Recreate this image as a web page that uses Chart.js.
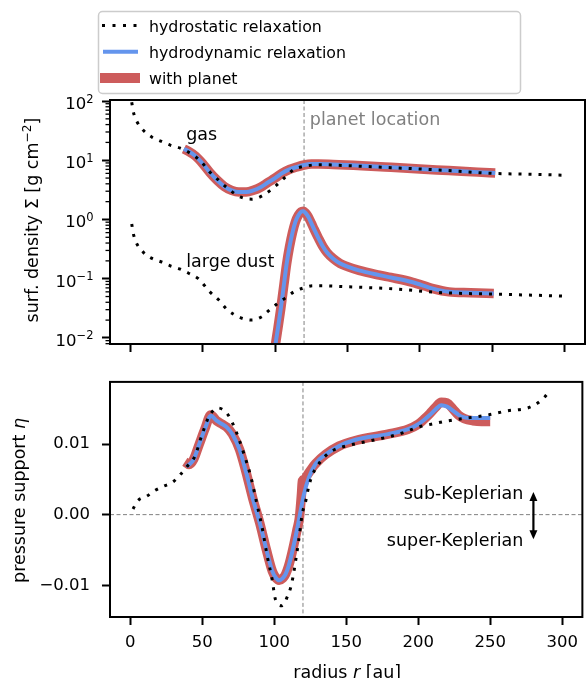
<!DOCTYPE html>
<html>
<head>
<meta charset="utf-8">
<script src="https://cdn.jsdelivr.net/npm/chart.js@4.4.0/dist/chart.umd.min.js"></script>
<style>
    html, body { margin: 0; padding: 0; background: #fff; overflow: hidden; }
    #quadro { position: relative; width: 586px; height: 678px; overflow: hidden; }
    #graficoSigma { position: absolute; left: 0; top: 0; }
    #graficoEta { position: absolute; left: 0; top: 360px; }
</style>
</head>
<body>
<div id="quadro">
    <canvas id="graficoSigma" width="586" height="360"></canvas>
    <canvas id="graficoEta" width="586" height="330"></canvas>
</div>
<script>
'use strict';

//========================================================================================
// dados - painel de cima (densidade superficial)
const nomesSeries = ['hydrostatic relaxation', 'hydrodynamic relaxation', 'with planet'];

const raioHidroGas = [1, 2.3, 5, 9, 15, 21, 27.6, 34.5, 40, 48, 55, 61, 67, 76, 84, 91, 101, 107, 113, 119, 126, 132, 150, 180, 215, 250, 275, 298];
const sigmaHidroGas = [95, 63, 43, 32, 24.5, 21, 18, 16, 13.8, 10, 6.3, 4.6, 3.4, 2.4, 2.2, 2.5, 3.8, 5.2, 7.0, 7.8, 8.3, 8.4, 8.1, 7.5, 6.8, 6.0, 5.8, 5.6];

const raioGasPlaneta = [37, 40, 45, 50, 55, 60, 65, 70, 75, 80, 85, 90, 95, 100, 105, 110, 115, 120, 125, 130, 140, 160, 180, 200, 220, 240, 252];
const sigmaGasPlaneta = [15.5, 14.3, 11.8, 8.8, 6.2, 4.6, 3.6, 3.1, 2.9, 2.9, 3.1, 3.5, 4.2, 5.0, 6.1, 7.0, 7.7, 8.3, 8.6, 8.6, 8.5, 8.1, 7.6, 7.1, 6.7, 6.3, 6.1];
const sigmaGasHidrodin = [15.5, 14.3, 11.8, 8.8, 6.2, 4.6, 3.6, 3.1, 2.9, 2.9, 3.1, 3.5, 4.2, 5.0, 6.1, 7.0, 7.7, 8.3, 8.6, 8.6, 8.5, 8.1, 7.6, 7.1, 6.7, 6.3, 6.1];

const raioHidroPoeira = [1, 2.3, 9, 15, 22, 27.6, 34.5, 40, 47, 55, 61, 67, 76, 84, 91, 95, 101, 107, 113, 119, 126, 132, 150, 179, 216, 250, 299];
const sigmaHidroPoeira = [0.84, 0.55, 0.28, 0.22, 0.19, 0.165, 0.145, 0.125, 0.10, 0.06, 0.044, 0.03, 0.022, 0.020, 0.023, 0.028, 0.037, 0.047, 0.06, 0.069, 0.076, 0.076, 0.073, 0.068, 0.058, 0.055, 0.051];

const raioPoeiraPlaneta = [100, 102, 104, 106, 108, 110, 112, 114, 116, 118, 119.5, 121, 123, 125, 127, 130, 133, 136, 140, 145, 150, 158, 172, 180, 195, 209, 220, 235, 251];
const sigmaPoeiraPlaneta = [0.0071, 0.0148, 0.032, 0.076, 0.18, 0.35, 0.6, 0.91, 1.17, 1.35, 1.38, 1.29, 1.10, 0.87, 0.68, 0.48, 0.35, 0.275, 0.22, 0.18, 0.16, 0.138, 0.115, 0.105, 0.087, 0.068, 0.06, 0.058, 0.056];
const sigmaPoeiraHidrodin = [0.0071, 0.0148, 0.032, 0.076, 0.18, 0.35, 0.6, 0.91, 1.17, 1.35, 1.38, 1.29, 1.10, 0.87, 0.68, 0.48, 0.35, 0.275, 0.22, 0.18, 0.16, 0.138, 0.115, 0.105, 0.087, 0.068, 0.06, 0.058, 0.056];

// dados - painel de baixo (suporte de pressao)
const raioHidroEta = [2, 5, 11.5, 17, 23, 29.5, 34.5, 39, 45, 50, 55, 61, 67, 71, 75, 79, 84, 88, 92, 95, 98.5, 101, 105.5, 109, 111.5, 113, 115, 117, 119.5, 122, 124, 126.5, 130, 134.5, 140, 149.5, 163, 179, 191, 200, 209, 221, 234.5, 248, 262, 276, 283, 288, 291];
const etaHidro = [0.0008, 0.0019, 0.0026, 0.0034, 0.0040, 0.0046, 0.0056, 0.0067, 0.0083, 0.0114, 0.0140, 0.0151, 0.0144, 0.0130, 0.0110, 0.0086, 0.0052, 0.0015, -0.0022, -0.0057, -0.0091, -0.0121, -0.0129, -0.0117, -0.0103, -0.0089, -0.0064, -0.0037, 0.0001, 0.0020, 0.0040, 0.0056, 0.0069, 0.0081, 0.0090, 0.0097, 0.0103, 0.0110, 0.0117, 0.0124, 0.0128, 0.0133, 0.0137, 0.0141, 0.0147, 0.0151, 0.0158, 0.0167, 0.0174];

const raioEtaPlaneta = [38, 41, 44, 48, 52, 56, 60, 64, 67, 71, 76, 80.5, 85, 90, 94.5, 98.7, 101, 103.4, 106, 108, 110, 112.5, 116, 117.5, 119, 119.6, 121, 123, 126, 128.7, 135.6, 145, 156.5, 179, 193, 200, 204, 208, 212, 216, 220, 224, 228, 232, 238, 244, 250];
const etaPlaneta = [0.0075, 0.0071, 0.0078, 0.0100, 0.0122, 0.0141, 0.0133, 0.0128, 0.0124, 0.0114, 0.0092, 0.0060, 0.0024, -0.0012, -0.0049, -0.0080, -0.0089, -0.0093, -0.0090, -0.0084, -0.0073, -0.0053, -0.0020, -0.0005, 0.0030, 0.0048, 0.0050, 0.0056, 0.0065, 0.0072, 0.0085, 0.0097, 0.0105, 0.0114, 0.0121, 0.0128, 0.0135, 0.0143, 0.0152, 0.0159, 0.0158, 0.0150, 0.0141, 0.0136, 0.0133, 0.0132, 0.0132];

const raioEtaHidrodin = [39, 41, 44, 48, 52, 56, 60, 64, 67, 71, 76, 80.5, 85, 90, 94.5, 98.7, 101, 103.4, 106, 108, 110, 112.5, 116, 118.4, 120.7, 124, 128.7, 135.6, 145, 156.5, 179, 193, 200, 204, 208, 212, 216, 220, 225, 230, 236, 242, 250];
const etaHidrodin = [0.0068, 0.0071, 0.0078, 0.0100, 0.0122, 0.0140, 0.0133, 0.0128, 0.0124, 0.0114, 0.0092, 0.0060, 0.0024, -0.0012, -0.0049, -0.0080, -0.0089, -0.0093, -0.0090, -0.0084, -0.0073, -0.0053, -0.0020, 0.0006, 0.0029, 0.0052, 0.0072, 0.0085, 0.0097, 0.0106, 0.0114, 0.0121, 0.0128, 0.0134, 0.0141, 0.0149, 0.0155, 0.0153, 0.0146, 0.0139, 0.0137, 0.0137, 0.0137];

// eixos e marcas
const raioTicks = [0, 50, 100, 150, 200, 250, 300];
const sigmaTicks = [0.01, 0.1, 1, 10, 100];
const sigmaTickExpoentes = ['−2', '−1', '0', '1', '2'];
const etaTicks = [-0.01, 0, 0.01];
const etaTickLabels = ['−0.01', '0.00', '0.01'];
const posicaoPlaneta = 120;
const setaKepler = [280, 0.0032, -0.0035];

//========================================================================================
Chart.defaults.font.family = "'DejaVu Sans', sans-serif";
Chart.defaults.color = '#000';
Chart.defaults.animation = false;

const PRETO = '#000000';
const AZUL = '#6495ED';
const VERMELHO = '#CD5C5C';
const CINZA = '#808080';
const FONTE = "'DejaVu Sans'";

function pontos(raios, valores) {
    return raios.map((r, i) => ({ x: r, y: valores[i] }));
}

function serie(label, dados, tipo) {
    const base = { label: label, data: dados, pointRadius: 0, fill: false, clip: 0, cubicInterpolationMode: 'monotone', borderJoinStyle: 'round' };
    if (tipo === 'pontilhado') return Object.assign(base, { borderColor: PRETO, borderWidth: 3, borderDash: [3, 7], borderCapStyle: 'butt' });
    if (tipo === 'azul') return Object.assign(base, { borderColor: AZUL, borderWidth: 4, borderCapStyle: 'butt' });
    return Object.assign(base, { borderColor: VERMELHO, borderWidth: 9.5, borderCapStyle: 'butt' });
}

function eixoX(altura, comRotulos) {
    return {
        type: 'linear', min: -14, max: 314, bounds: 'data',
        afterBuildTicks: s => { s.ticks = raioTicks.map(v => ({ value: v })); },
        afterFit: s => { s.height = altura; },
        ticks: { display: comRotulos, font: { size: 16.5 }, padding: 8, autoSkip: false, maxRotation: 0 },
        grid: { drawOnChartArea: false, tickLength: 8, tickWidth: 2, tickColor: PRETO },
        border: { display: false }
    };
}

function tracejado(ctx, x0, y0, x1, y1) {
    ctx.save();
    ctx.strokeStyle = CINZA;
    ctx.lineWidth = 1;
    ctx.setLineDash([4, 2.5]);
    ctx.beginPath();
    ctx.moveTo(x0, y0);
    ctx.lineTo(x1, y1);
    ctx.stroke();
    ctx.restore();
}

function moldura(chart) {
    const a = chart.chartArea;
    const ctx = chart.ctx;
    ctx.save();
    ctx.strokeStyle = PRETO;
    ctx.lineWidth = 2;
    ctx.strokeRect(a.left, a.top, a.right - a.left, a.bottom - a.top);
    ctx.restore();
}

function texto(ctx, str, x, y, cor, alinhamento) {
    ctx.save();
    ctx.font = '17.5px ' + FONTE;
    ctx.fillStyle = cor;
    ctx.textAlign = alinhamento;
    ctx.textBaseline = 'alphabetic';
    ctx.fillText(str, x, y);
    ctx.restore();
}

// titulo com partes em italico / expoente, centrado em (x, y) na linha de base
function tituloMisto(ctx, partes, x, y, girado) {
    const tam = 17.5;
    const fonteDe = p => (p.italico ? 'italic ' : '') + (p.sup ? tam * 0.7 : tam) + 'px ' + FONTE;
    let total = 0;
    partes.forEach(p => { ctx.font = fonteDe(p); p.w = ctx.measureText(p.t).width; total += p.w; });
    ctx.save();
    ctx.translate(x, y);
    if (girado) ctx.rotate(-Math.PI / 2);
    ctx.fillStyle = PRETO;
    ctx.textAlign = 'left';
    ctx.textBaseline = 'alphabetic';
    let cx = -total / 2;
    partes.forEach(p => {
        ctx.font = fonteDe(p);
        ctx.fillText(p.t, cx, p.sup ? -tam * 0.4 : 0);
        cx += p.w;
    });
    ctx.restore();
}

// rotulo 10^n do eixo log
function rotuloPotencia(ctx, expoente, xDireita, yTick) {
    ctx.save();
    ctx.fillStyle = PRETO;
    ctx.textAlign = 'left';
    ctx.textBaseline = 'alphabetic';
    ctx.font = '16.5px ' + FONTE;
    const wBase = ctx.measureText('10').width;
    ctx.font = '11.5px ' + FONTE;
    const wExp = ctx.measureText(expoente).width;
    const x0 = xDireita - wBase - wExp;
    const yb = yTick + 8;
    ctx.font = '16.5px ' + FONTE;
    ctx.fillText('10', x0, yb);
    ctx.font = '11.5px ' + FONTE;
    ctx.fillText(expoente, x0 + wBase, yb - 6.5);
    ctx.restore();
}

//========================================================================================
// legenda desenhada a mao (estilo matplotlib)
function desenhaLegenda(ctx) {
    ctx.save();
    ctx.beginPath();
    ctx.roundRect(98.5, 11.5, 422, 82, 4);
    ctx.fillStyle = 'rgba(255,255,255,0.8)';
    ctx.fill();
    ctx.strokeStyle = '#cccccc';
    ctx.lineWidth = 1.5;
    ctx.stroke();

    const estilos = [
        { cor: PRETO, largura: 3, dash: [3, 7.5], x0: 102, x1: 137 },
        { cor: AZUL, largura: 4, dash: [], x0: 103, x1: 138 },
        { cor: VERMELHO, largura: 10, dash: [], x0: 100, x1: 140 }
    ];
    nomesSeries.forEach((nome, i) => {
        const y = 25.5 + i * 26.2;
        const e = estilos[i];
        ctx.strokeStyle = e.cor;
        ctx.lineWidth = e.largura;
        ctx.setLineDash(e.dash);
        ctx.beginPath();
        ctx.moveTo(e.x0, y);
        ctx.lineTo(e.x1, y);
        ctx.stroke();
        ctx.setLineDash([]);
        ctx.font = '15.8px ' + FONTE;
        ctx.fillStyle = PRETO;
        ctx.textAlign = 'left';
        ctx.textBaseline = 'alphabetic';
        ctx.fillText(nome, 149, y + 6);
    });
    ctx.restore();
}

const pluginSigma = {
    id: 'pluginSigma',
    beforeDatasetsDraw(chart) {
        const x = chart.scales.x.getPixelForValue(posicaoPlaneta);
        tracejado(chart.ctx, x, chart.chartArea.top, x, chart.chartArea.bottom);
    },
    afterDraw(chart) {
        const ctx = chart.ctx;
        const sx = chart.scales.x;
        const sy = chart.scales.y;
        const a = chart.chartArea;
        moldura(chart);
        // marcas menores do eixo log
        ctx.save();
        ctx.strokeStyle = PRETO;
        ctx.lineWidth = 1.3;
        for (let e = -3; e <= 2; e++) {
            for (let m = 2; m <= 9; m++) {
                const v = m * Math.pow(10, e);
                if (v < sy.min || v > sy.max) continue;
                const y = sy.getPixelForValue(v);
                ctx.beginPath();
                ctx.moveTo(a.left - 4.5, y);
                ctx.lineTo(a.left, y);
                ctx.stroke();
            }
        }
        ctx.restore();
        sigmaTicks.forEach((v, i) => rotuloPotencia(ctx, sigmaTickExpoentes[i], a.left - 16.5, sy.getPixelForValue(v)));
        tituloMisto(ctx, [{ t: 'surf. density Σ [g cm' }, { t: '−2', sup: true }, { t: ']' }], 38, (a.top + a.bottom) / 2 - 2, true);
        texto(ctx, 'gas', sx.getPixelForValue(38.6), sy.getPixelForValue(22), PRETO, 'left');
        texto(ctx, 'large dust', sx.getPixelForValue(38.6), sy.getPixelForValue(0.16), PRETO, 'left');
        texto(ctx, 'planet location', sx.getPixelForValue(124), sy.getPixelForValue(39.4), CINZA, 'left');
        desenhaLegenda(ctx);
    }
};

const pluginEta = {
    id: 'pluginEta',
    beforeDatasetsDraw(chart) {
        const a = chart.chartArea;
        const x = chart.scales.x.getPixelForValue(posicaoPlaneta);
        const y = chart.scales.y.getPixelForValue(0);
        tracejado(chart.ctx, a.left, y, a.right, y);
        tracejado(chart.ctx, x, a.top, x, a.bottom);
    },
    afterDraw(chart) {
        const ctx = chart.ctx;
        const sx = chart.scales.x;
        const sy = chart.scales.y;
        const a = chart.chartArea;
        moldura(chart);
        tituloMisto(ctx, [{ t: 'pressure support ' }, { t: 'η', italico: true }], 24.5, (a.top + a.bottom) / 2 + 1, true);
        tituloMisto(ctx, [{ t: 'radius ' }, { t: 'r', italico: true }, { t: ' [au]' }], (a.left + a.right) / 2 + 1, 318, false);
        texto(ctx, 'sub-Keplerian', sx.getPixelForValue(273), sy.getPixelForValue(0.00218), PRETO, 'right');
        texto(ctx, 'super-Keplerian', sx.getPixelForValue(273), sy.getPixelForValue(-0.0045), PRETO, 'right');
        // seta dupla
        const xs = sx.getPixelForValue(setaKepler[0]);
        const yTopo = sy.getPixelForValue(setaKepler[1]);
        const yBase = sy.getPixelForValue(setaKepler[2]);
        ctx.save();
        ctx.strokeStyle = PRETO;
        ctx.fillStyle = PRETO;
        ctx.lineWidth = 2.2;
        ctx.beginPath();
        ctx.moveTo(xs, yTopo + 6);
        ctx.lineTo(xs, yBase - 6);
        ctx.stroke();
        ctx.beginPath();
        ctx.moveTo(xs, yTopo);
        ctx.lineTo(xs - 4, yTopo + 9);
        ctx.lineTo(xs + 4, yTopo + 9);
        ctx.closePath();
        ctx.fill();
        ctx.beginPath();
        ctx.moveTo(xs, yBase);
        ctx.lineTo(xs - 4, yBase - 9);
        ctx.lineTo(xs + 4, yBase - 9);
        ctx.closePath();
        ctx.fill();
        ctx.restore();
    }
};

//========================================================================================
const graficoSigma = new Chart(document.getElementById('graficoSigma'), {
    type: 'line',
    data: {
        datasets: [
            serie(nomesSeries[0], pontos(raioHidroGas, sigmaHidroGas), 'pontilhado'),
            serie(nomesSeries[0], pontos(raioHidroPoeira, sigmaHidroPoeira), 'pontilhado'),
            serie(nomesSeries[1], pontos(raioGasPlaneta, sigmaGasHidrodin), 'azul'),
            serie(nomesSeries[1], pontos(raioPoeiraPlaneta, sigmaPoeiraHidrodin), 'azul'),
            serie(nomesSeries[2], pontos(raioGasPlaneta, sigmaGasPlaneta), 'vermelho'),
            serie(nomesSeries[2], pontos(raioPoeiraPlaneta, sigmaPoeiraPlaneta), 'vermelho')
        ]
    },
    options: {
        responsive: false,
        layout: { padding: { top: 100, right: 1, left: 0, bottom: 0 } },
        plugins: { legend: { display: false }, tooltip: { enabled: false } },
        scales: {
            x: eixoX(16, false),
            y: {
                type: 'logarithmic', min: 0.0079, max: 104, bounds: 'data',
                afterBuildTicks: s => { s.ticks = sigmaTicks.map(v => ({ value: v, major: true })); },
                afterFit: s => { s.width = 110; },
                ticks: { display: false },
                grid: { drawOnChartArea: false, tickLength: 8, tickWidth: 2, tickColor: PRETO },
                border: { display: false }
            }
        }
    },
    plugins: [pluginSigma]
});

const graficoEta = new Chart(document.getElementById('graficoEta'), {
    type: 'line',
    data: {
        datasets: [
            serie(nomesSeries[0], pontos(raioHidroEta, etaHidro), 'pontilhado'),
            serie(nomesSeries[1], pontos(raioEtaHidrodin, etaHidrodin), 'azul'),
            serie(nomesSeries[2], pontos(raioEtaPlaneta, etaPlaneta), 'vermelho')
        ]
    },
    options: {
        responsive: false,
        layout: { padding: { top: 12, right: 1, left: 0, bottom: 0 } },
        plugins: { legend: { display: false }, tooltip: { enabled: false } },
        scales: {
            x: eixoX(73, true),
            y: {
                type: 'linear', min: -0.0145, max: 0.0188, bounds: 'data',
                afterBuildTicks: s => { s.ticks = etaTicks.map(v => ({ value: v })); },
                afterFit: s => { s.width = 110; },
                ticks: {
                    font: { size: 16.5 }, padding: 12, autoSkip: false,
                    callback: (v, i) => etaTickLabels[i]
                },
                grid: { drawOnChartArea: false, tickLength: 8, tickWidth: 2, tickColor: PRETO },
                border: { display: false }
            }
        }
    },
    plugins: [pluginEta]
});
</script>
</body>
</html>
